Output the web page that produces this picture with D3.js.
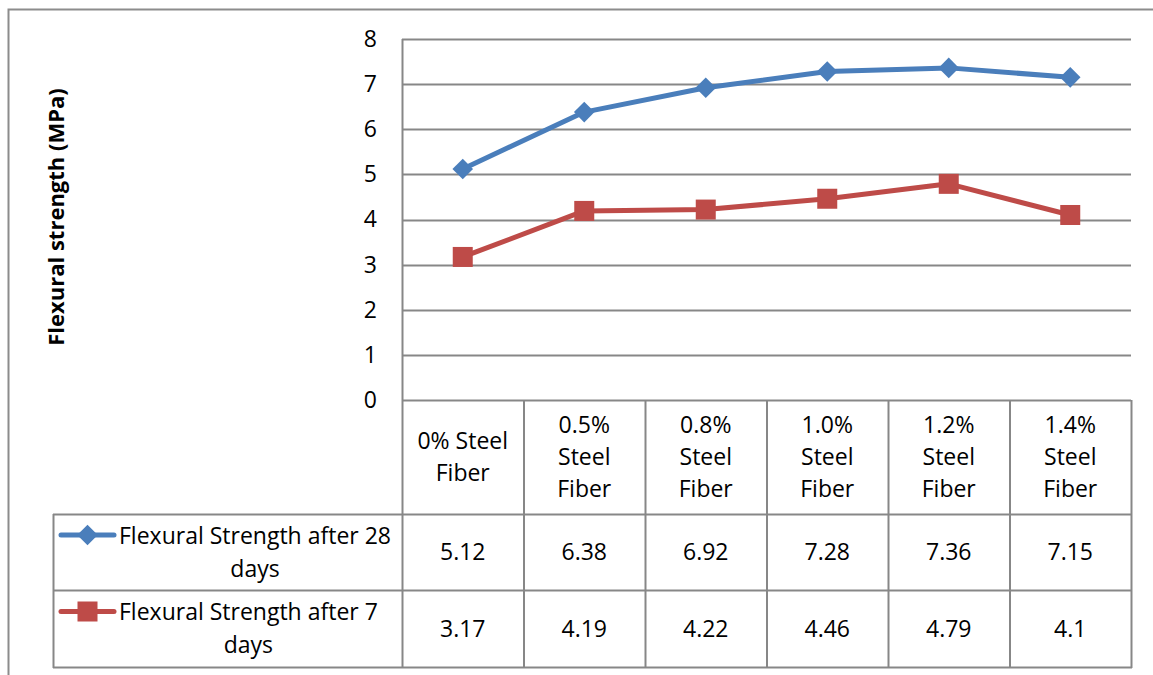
<!DOCTYPE html>
<html>
<head>
<meta charset="utf-8">
<script src="https://cdn.jsdelivr.net/npm/d3@7"></script>
<style>
  html, body { margin: 0; padding: 0; background: #fff; }
  svg { display: block; font-family: "Open Sans", sans-serif; }
</style>
</head>
<body>
<svg id="chart" width="1153" height="675"></svg>
<script>
// Fiber dosage categories (header rows, one array per line of text)
const categories = ["0% Steel Fiber", "0.5% Steel Fiber", "0.8% Steel Fiber", "1.0% Steel Fiber", "1.2% Steel Fiber", "1.4% Steel Fiber"];
const categoryLines = [["0% Steel", "Fiber"], ["0.5%", "Steel", "Fiber"], ["0.8%", "Steel", "Fiber"], ["1.0%", "Steel", "Fiber"], ["1.2%", "Steel", "Fiber"], ["1.4%", "Steel", "Fiber"]];

// Flexural strength (MPa)
const strength28 = [5.12, 6.38, 6.92, 7.28, 7.36, 7.15];
const strength7 = [3.17, 4.19, 4.22, 4.46, 4.79, 4.1];
const strength28Labels = ["5.12", "6.38", "6.92", "7.28", "7.36", "7.15"];
const strength7Labels = ["3.17", "4.19", "4.22", "4.46", "4.79", "4.1"];

const seriesNames = [["Flexural Strength after 28", "days"], ["Flexural Strength after 7", "days"]];
const yTicks = [0, 1, 2, 3, 4, 5, 6, 7, 8];
const yTitle = "Flexural strength (MPa)";

const series = [
  { name: seriesNames[0], values: strength28, labels: strength28Labels, color: "#4a7ebb", marker: "diamond" },
  { name: seriesNames[1], values: strength7, labels: strength7Labels, color: "#be4b48", marker: "square" }
];

const svg = d3.select("#chart");
const grid = "#878787";
const fontSize = 23;

// Layout of plot area and data table
const plot = { left: 402, right: 1131, top: 39, bottom: 400 };
const table = { left: 53, headerBottom: 514, rowBottoms: [590, 667] };

// outer frame (top and left edges)
svg.append("path")
  .attr("d", "M8.5,675 V9.5 H1153")
  .attr("fill", "none").attr("stroke", "#8c8c8c").attr("stroke-width", 2);

const x = d3.scaleBand().domain(categories).range([plot.left, plot.right]).padding(0);
const y = d3.scaleLinear().domain([0, 8]).range([plot.bottom, plot.top]);

// horizontal gridlines
svg.append("g").selectAll("line").data(yTicks).join("line")
  .attr("x1", plot.left).attr("x2", plot.right)
  .attr("y1", d => Math.round(y(d)) + 0.5).attr("y2", d => Math.round(y(d)) + 0.5)
  .attr("stroke", grid).attr("stroke-width", 2);

// y axis tick labels
const yAxis = d3.axisLeft(y).tickValues(yTicks).tickSize(0).tickPadding(0);
const gy = svg.append("g").attr("transform", `translate(${plot.left - 25},0)`).call(yAxis);
gy.select(".domain").remove();
gy.selectAll("text").attr("font-size", fontSize).attr("fill", "#000")
  .attr("font-family", "'Open Sans', sans-serif");

// y axis title
svg.append("text")
  .attr("transform", `translate(64,217) rotate(-90)`)
  .attr("text-anchor", "middle")
  .attr("font-size", 22).attr("font-weight", "bold").attr("fill", "#000")
  .text(yTitle);

// data table grid
const tableLines = svg.append("g").attr("stroke", grid).attr("stroke-width", 2).attr("fill", "none");
// vertical lines: plot left edge + category boundaries
const bounds = categories.map(c => x(c)).concat([plot.right]);
bounds.forEach((bx, i) => {
  const top = i === 0 ? plot.top : plot.bottom;
  tableLines.append("line").attr("x1", bx + 0.5).attr("x2", bx + 0.5)
    .attr("y1", top).attr("y2", table.rowBottoms[1] + 1);
});
// legend cell left edge
tableLines.append("line").attr("x1", table.left + 0.5).attr("x2", table.left + 0.5)
  .attr("y1", table.headerBottom).attr("y2", table.rowBottoms[1] + 1);
// horizontal rows
[table.headerBottom, ...table.rowBottoms].forEach(ry => {
  tableLines.append("line").attr("x1", table.left).attr("x2", plot.right + 1)
    .attr("y1", ry + 0.5).attr("y2", ry + 0.5);
});

// header labels
const lineH = 32;
categories.forEach((c, i) => {
  const lines = categoryLines[i];
  const cx = x(c) + x.bandwidth() / 2;
  const cy = (plot.bottom + table.headerBottom) / 2;
  const t = svg.append("text").attr("text-anchor", "middle").attr("font-size", fontSize).attr("fill", "#000");
  lines.forEach((ln, k) => {
    t.append("tspan").attr("x", cx)
      .attr("y", cy + (k - (lines.length - 1) / 2) * lineH)
      .attr("dy", "0.35em").text(ln);
  });
});

// value cells
const rowTops = [table.headerBottom, table.rowBottoms[0]];
series.forEach((s, si) => {
  const cy = (rowTops[si] + table.rowBottoms[si]) / 2;
  svg.append("g").selectAll("text").data(s.labels).join("text")
    .attr("x", (d, i) => x(categories[i]) + x.bandwidth() / 2)
    .attr("y", cy).attr("dy", "0.35em")
    .attr("text-anchor", "middle").attr("font-size", fontSize).attr("fill", "#000")
    .text(d => d);
});

// marker shapes
const diamond = d3.symbol().type(d3.symbolDiamond2).size(270);
function drawMarker(g, s, px, py) {
  if (s.marker === "diamond") {
    g.append("path").attr("d", diamond()).attr("transform", `translate(${px},${py})`)
      .attr("fill", s.color);
  } else {
    g.append("rect").attr("x", px - 10).attr("y", py - 10).attr("width", 20).attr("height", 20)
      .attr("fill", s.color);
  }
}

// series lines and markers
const line = d3.line().x((d, i) => x(categories[i]) + x.bandwidth() / 2).y(d => y(d));
series.forEach(s => {
  svg.append("path").datum(s.values).attr("d", line)
    .attr("fill", "none").attr("stroke", s.color).attr("stroke-width", 5)
    .attr("stroke-linejoin", "round");
  const g = svg.append("g");
  s.values.forEach((v, i) => drawMarker(g, s, x(categories[i]) + x.bandwidth() / 2, y(v)));
});

// legend keys in the table's first column; wrapped names are centred
// within a block that starts just right of the key
const textLeft = 119;
series.forEach((s, si) => {
  const top = rowTops[si];
  const cy = (top + table.rowBottoms[si]) / 2;
  const ky = cy - 17;
  const g = svg.append("g");
  g.append("line").attr("x1", 61).attr("x2", 114).attr("y1", ky).attr("y2", ky)
    .attr("stroke", s.color).attr("stroke-width", 5).attr("stroke-linecap", "round");
  drawMarker(g, s, 87.5, ky);
  const t = svg.append("text").attr("text-anchor", "middle").attr("font-size", fontSize).attr("fill", "#000");
  const spans = s.name.map((ln, k) =>
    t.append("tspan").attr("y", cy + (k - 0.5) * 33).attr("dy", "0.35em").text(ln));
  const widest = d3.max(spans, sp => sp.node().getComputedTextLength());
  spans.forEach(sp => sp.attr("x", textLeft + widest / 2));
});
</script>
</body>
</html>
